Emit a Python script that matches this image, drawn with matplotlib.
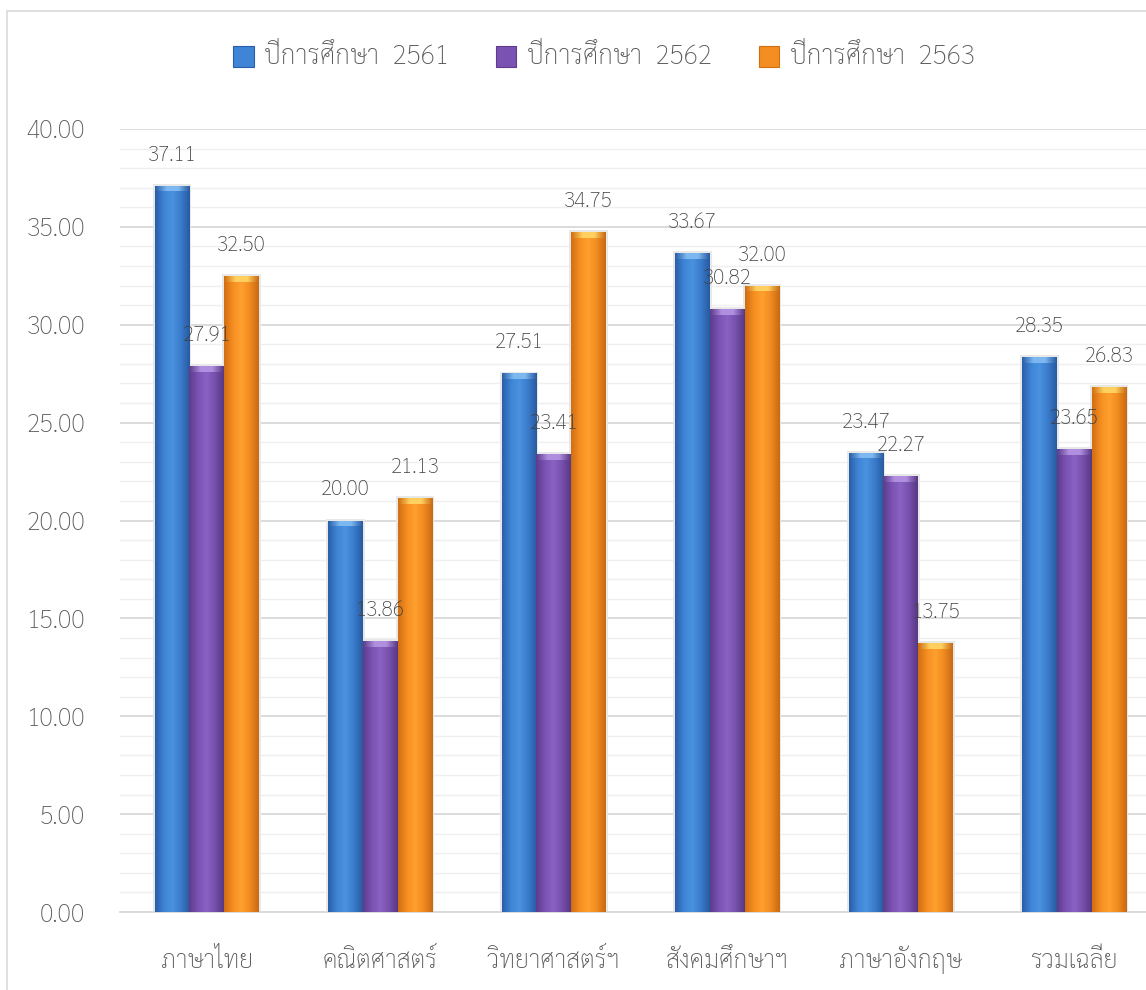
import matplotlib
matplotlib.use("Agg")
import numpy as np
import matplotlib.pyplot as plt
from matplotlib.colors import LinearSegmentedColormap
from matplotlib.patches import Rectangle
from matplotlib.legend_handler import HandlerBase

plt.rcParams['font.family'] = ['Sarabun', 'DejaVu Sans']
plt.rcParams['font.weight'] = 'light'

# ข้อมูล
subjects = ["ภาษาไทย", "คณิตศาสตร์", "วิทยาศาสตร์ฯ", "สังคมศึกษาฯ", "ภาษาอังกฤษ", "รวมเฉลี่ย"]
years = ["ปีการศึกษา  2561", "ปีการศึกษา  2562", "ปีการศึกษา  2563"]
y2561 = [37.11, 20.00, 27.51, 33.67, 23.47, 28.35]
y2562 = [27.91, 13.86, 23.41, 30.82, 22.27, 23.65]
y2563 = [32.50, 21.13, 34.75, 32.00, 13.75, 26.83]
yticks = [0, 5, 10, 15, 20, 25, 30, 35, 40]

# สี (ขอบ, กลาง, ขอบ)
shades = [
    ["#2A5EA8", "#3F84D6", "#4A92E0", "#3A7BCB", "#285AA0"],
    ["#5E3C8C", "#7A52B2", "#8A62C4", "#7650AC", "#583884"],
    ["#D06E12", "#F58E22", "#FFA02E", "#F08A20", "#C86A14"],
]
caps = ["#7DB8F0", "#B08EE0", "#FFD060"]

fig = plt.figure(figsize=(11.46, 9.9), dpi=100)
ax = fig.add_axes([120 / 1146, 1 - 912 / 990, 1041 / 1146, (912 - 129) / 990])

# กรอบรอบแผนภูมิ
fig.patches.append(Rectangle((7 / 1146, -0.1), 1.2, 1 - 11 / 990 + 0.1,
                             transform=fig.transFigure, fill=False,
                             edgecolor="#D9D9D9", linewidth=1.2, zorder=0))

x = np.arange(len(subjects))
w = 0.2
series = [y2561, y2562, y2563]


def grad_bar(ax, xc, h, cols, cap):
    x0, x1 = xc - w / 2, xc + w / 2
    bar = ax.bar(xc, h, w, color=cols[1], linewidth=0, zorder=3)[0]
    cm = LinearSegmentedColormap.from_list("g", cols)
    img = ax.imshow(np.linspace(0, 1, 64).reshape(1, -1), cmap=cm, aspect="auto",
                    extent=(x0, x1, 0, h), zorder=3.1, interpolation="bilinear")
    img.set_clip_path(bar)
    # ฝาด้านบน
    capc = LinearSegmentedColormap.from_list("c", [cols[0], cap, cap, cols[4]])
    c = ax.imshow(np.linspace(0, 1, 64).reshape(1, -1), cmap=capc, aspect="auto",
                  extent=(x0, x1, h - 0.3, h), zorder=3.2, interpolation="bilinear")
    c.set_clip_path(bar)
    # เงา
    ax.add_patch(Rectangle((x0 - 0.012, 0), w + 0.024, h + 0.1, facecolor="#E8E8E8",
                           edgecolor="none", zorder=2.5))


for i, vals in enumerate(series):
    for j, v in enumerate(vals):
        xc = x[j] + (i - 1) * w
        grad_bar(ax, xc, v, shades[i], caps[i])
        ax.annotate(f"{v:.2f}", (xc, v), xytext=(0, 22), textcoords="offset points",
                    ha="center", va="center", fontsize=15, color="#404040", zorder=5)

ax.set_xlim(-0.5, len(subjects) - 0.5)
ax.set_ylim(0, 40)
ax.set_yticks(yticks)
ax.set_yticklabels([f"{t:.2f}" for t in yticks])
ax.set_yticks(np.arange(0, 40, 1), minor=True)
ax.set_xticks(x)
ax.set_xticklabels(subjects, va="baseline")
ax.tick_params(axis="both", length=0, labelsize=18, colors="#595959")
ax.tick_params(axis="y", which="minor", length=0)
ax.tick_params(axis="x", pad=40)
ax.tick_params(axis="y", pad=25)
ax.grid(axis="y", which="major", color="#D9D9D9", linewidth=1.3, zorder=0)
ax.grid(axis="y", which="minor", color="#EFEFEF", linewidth=1.0, zorder=0)
ax.set_axisbelow(True)
for s in ["top", "right", "left"]:
    ax.spines[s].set_visible(False)
ax.spines["bottom"].set_color("#D9D9D9")
ax.spines["bottom"].set_linewidth(1.3)


class GradHandler(HandlerBase):
    def __init__(self, cols):
        super().__init__()
        self.cols = cols

    def create_artists(self, legend, orig, xd, yd, width, height, fontsize, trans):
        s = height * 1.1
        r = Rectangle((xd + width - s, yd + (height - s) / 2 - 1), s, s, facecolor=self.cols[1],
                      edgecolor=self.cols[0], linewidth=0.8, transform=trans)
        return [r]


handles = [Rectangle((0, 0), 1, 1) for _ in years]
fig.legend(handles, years, loc="center", bbox_to_anchor=(603 / 1146, 1 - 57 / 990), ncol=3,
           frameon=False, fontsize=19, labelcolor="#595959", handlelength=0.85,
           handletextpad=0.4, columnspacing=1.7,
           handler_map={h: GradHandler(shades[i]) for i, h in enumerate(handles)})

fig.savefig("out.png", dpi=100)
